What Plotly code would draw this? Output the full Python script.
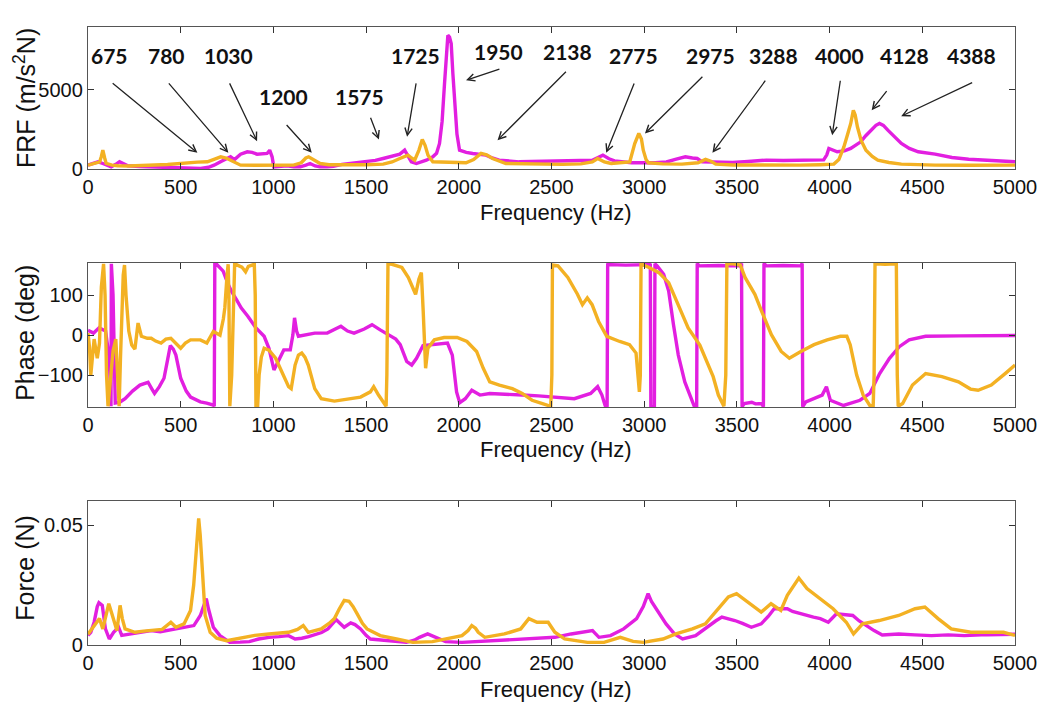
import plotly.graph_objects as go

# ---------------- data ----------------
# Panel 1: FRF magnitude (m/s^2/N)
frf_mag_freq = [0, 30, 54, 80, 100, 125, 150, 170, 190, 215, 280, 340, 400, 465, 540, 608, 650, 680, 720, 769, 790, 823, 859, 885, 912, 940, 966, 980, 993, 1002, 1040, 1073, 1110, 1145, 1175, 1198, 1225, 1252, 1290, 1324, 1370, 1413, 1460, 1503, 1550, 1592, 1640, 1682, 1708, 1725, 1744, 1771, 1800, 1825, 1860, 1880, 1896, 1910, 1923, 1935, 1941, 1950, 1959, 1968, 1977, 1990, 2004, 2040, 2075, 2110, 2147, 2180, 2218, 2326, 2476, 2658, 2720, 2777, 2810, 2840, 2931, 3059, 3120, 3168, 3222, 3260, 3286, 3313, 3400, 3477, 3560, 3659, 3750, 3841, 3968, 3985, 3996, 4041, 4080, 4114, 4140, 4168, 4195, 4223, 4250, 4269, 4290, 4314, 4350, 4387, 4430, 4478, 4569, 4660, 4750, 4842, 4920, 5000]
frf_mag_val = [250, 350, 460, 355, 250, 146, 300, 460, 350, 210, 170, 146, 160, 146, 100, 40, 120, 250, 500, 775, 600, 940, 1090, 1050, 940, 950, 985, 1190, 775, 146, 180, 210, 150, 146, 250, 355, 200, 146, 150, 180, 300, 355, 400, 460, 550, 670, 800, 940, 1190, 800, 460, 355, 450, 565, 775, 1000, 1610, 3000, 5376, 7800, 8410, 8300, 7890, 6000, 4330, 2200, 1190, 1050, 985, 950, 880, 700, 565, 460, 480, 520, 560, 880, 650, 520, 400, 400, 450, 610, 775, 700, 670, 460, 430, 420, 480, 565, 540, 560, 580, 900, 1300, 1090, 1150, 1300, 1500, 1715, 2100, 2450, 2750, 2870, 2750, 2450, 2000, 1610, 1300, 1090, 940, 730, 620, 565, 500, 460]
frf_org_freq = [0, 40, 63, 72, 80, 90, 98, 130, 161, 220, 286, 360, 429, 480, 537, 590, 644, 680, 716, 745, 769, 800, 823, 900, 966, 1040, 1109, 1150, 1175, 1190, 1215, 1252, 1300, 1413, 1500, 1592, 1640, 1682, 1726, 1745, 1762, 1785, 1803, 1818, 1834, 1860, 1950, 2039, 2080, 2120, 2150, 2182, 2254, 2400, 2560, 2658, 2720, 2749, 2785, 2822, 2900, 2922, 2949, 2971, 2985, 2995, 3010, 3022, 3100, 3204, 3290, 3331, 3360, 3386, 3480, 3568, 3700, 3841, 3950, 4023, 4050, 4077, 4100, 4114, 4128, 4138, 4150, 4170, 4196, 4230, 4260, 4320, 4387, 4480, 4569, 4750, 5000]
frf_org_val = [250, 350, 460, 800, 1190, 700, 355, 250, 210, 200, 250, 260, 290, 350, 420, 440, 460, 600, 775, 700, 565, 350, 250, 240, 250, 230, 250, 400, 700, 775, 600, 355, 280, 250, 280, 315, 450, 670, 880, 700, 565, 1200, 1860, 1500, 880, 460, 420, 400, 600, 985, 900, 670, 355, 320, 300, 330, 450, 670, 450, 355, 400, 450, 1610, 2240, 1900, 1190, 600, 400, 330, 315, 400, 610, 500, 315, 260, 250, 230, 250, 280, 315, 600, 1400, 2300, 2870, 3700, 3400, 2660, 1800, 1190, 800, 565, 420, 315, 280, 250, 240, 250]

# Panel 2: phase (deg)
ph_mag_freq = [0, 30, 60, 95, 115, 124, 126, 135, 147, 170, 200, 240, 280, 324, 345, 359, 385, 410, 430, 444, 460, 474, 500, 530, 553, 606, 640, 676, 681, 684, 694, 729, 756, 773, 800, 826, 862, 906, 950, 976, 1003, 1029, 1056, 1091, 1105, 1114, 1125, 1135, 1180, 1223, 1290, 1364, 1400, 1435, 1490, 1532, 1576, 1629, 1660, 1684, 1719, 1746, 1772, 1807, 1868, 1939, 1965, 1988, 2005, 2035, 2070, 2114, 2167, 2254, 2342, 2430, 2518, 2623, 2711, 2749, 2772, 2789, 2800, 2803, 2812, 2900, 3026, 3033, 3036, 3055, 3058, 3070, 3105, 3132, 3158, 3184, 3219, 3254, 3270, 3283, 3286, 3296, 3400, 3518, 3525, 3528, 3540, 3580, 3600, 3633, 3643, 3646, 3659, 3750, 3845, 3852, 3855, 3872, 3934, 3960, 3983, 4004, 4075, 4164, 4217, 4270, 4323, 4376, 4429, 4518, 4700, 5000]
ph_mag_val = [12, 5, 18, 10, -60, -178, 178, 100, -170, -168, -159, -140, -125, -118, -135, -146, -129, -108, -60, -26, -35, -50, -108, -140, -155, -167, -170, -175, -178, 178, 177, 160, 127, 110, 89, 68, 47, 18, -3, -33, -87, -62, -37, -37, 0, 43, 10, -3, 0, 5, 5, 22, 10, 5, 15, 26, 13, -3, -10, -24, -66, -75, -58, -26, -24, -20, -50, -142, -169, -159, -138, -150, -146, -149, -150, -152, -155, -159, -146, -129, -150, -176, -179, 179, 176, 175, 176, 178, -179, -179, 178, 173, 152, 110, 26, -50, -117, -159, -178, -179, 179, 173, 174, 173, 179, -179, -171, -168, -172, -171, -179, 179, 173, 174, 173, 179, -179, -167, -155, -150, -129, -163, -176, -163, -146, -96, -58, -29, -12, -3, -2, -1]
ph_org_freq = [0, 8, 15, 25, 33, 50, 62, 72, 84, 92, 100, 108, 118, 135, 150, 160, 168, 175, 190, 197, 205, 220, 236, 253, 270, 288, 320, 341, 365, 394, 420, 447, 475, 500, 525, 553, 606, 641, 676, 712, 730, 738, 750, 756, 760, 765, 775, 785, 791, 800, 830, 850, 865, 897, 902, 906, 915, 923, 935, 950, 976, 1012, 1047, 1082, 1096, 1117, 1135, 1153, 1170, 1188, 1223, 1258, 1329, 1399, 1470, 1523, 1541, 1567, 1594, 1608, 1612, 1618, 1640, 1693, 1728, 1750, 1767, 1785, 1798, 1808, 1816, 1821, 1833, 1868, 1921, 1991, 2044, 2096, 2132, 2167, 2219, 2289, 2342, 2395, 2447, 2496, 2502, 2505, 2535, 2588, 2640, 2667, 2693, 2719, 2754, 2798, 2868, 2921, 2956, 2974, 2979, 2983, 3026, 3079, 3132, 3184, 3237, 3300, 3340, 3372, 3400, 3430, 3440, 3446, 3480, 3518, 3544, 3597, 3633, 3686, 3739, 3783, 3845, 3916, 3987, 4058, 4093, 4111, 4146, 4181, 4217, 4235, 4240, 4245, 4300, 4360, 4365, 4370, 4394, 4447, 4518, 4606, 4695, 4760, 4801, 4872, 4950, 5000]
ph_org_val = [5, -30, -100, -40, -10, -58, -20, 120, 178, 100, -100, -178, -120, -40, -10, -100, -178, -60, 150, 175, 100, 10, -25, -35, 30, -3, -8, -8, -15, -20, -10, -8, -20, -33, -20, -12, -12, -20, 9, 0, 40, 68, 150, 177, 100, -178, -100, 100, 178, 176, 170, 158, 172, 177, 100, -178, -178, -100, -55, -33, -38, -58, -92, -129, -134, -75, -50, -45, -55, -75, -134, -159, -165, -159, -155, -142, -129, -150, -171, -178, -100, 178, 177, 169, 144, 120, 102, 140, 156, 60, -16, -83, -33, -12, -6, -6, -16, -41, -83, -117, -125, -134, -146, -163, -171, -178, -100, 175, 173, 144, 102, 76, 93, 76, 34, -3, -16, -24, -45, -142, -100, 178, 169, 156, 131, 76, 18, -25, -70, -104, -150, -178, -100, 178, 178, 175, 144, 102, 60, 1, -41, -58, -41, -24, -12, -3, -3, -24, -100, -150, -176, -178, -100, 178, 177, 178, -100, -178, -171, -125, -96, -104, -117, -135, -138, -125, -95, -75]

# Panel 3: force (N)
fo_mag_freq = [0, 15, 33, 50, 59, 77, 94, 115, 138, 165, 182, 220, 253, 300, 341, 390, 429, 482, 518, 571, 606, 625, 638, 650, 676, 712, 765, 820, 870, 920, 976, 1030, 1082, 1117, 1153, 1190, 1223, 1260, 1294, 1320, 1338, 1360, 1382, 1417, 1440, 1470, 1500, 1523, 1611, 1717, 1760, 1788, 1832, 1876, 1929, 2017, 2105, 2200, 2281, 2370, 2458, 2518, 2606, 2680, 2721, 2756, 2818, 2889, 2959, 2995, 3021, 3040, 3065, 3118, 3163, 3207, 3277, 3348, 3385, 3419, 3455, 3489, 3530, 3578, 3631, 3670, 3701, 3740, 3772, 3800, 3843, 3880, 3913, 3950, 3993, 4037, 4080, 4125, 4160, 4196, 4240, 4284, 4373, 4460, 4549, 4640, 4726, 4850, 4938, 5000]
fo_mag_val = [0.004, 0.0053, 0.0095, 0.016, 0.0176, 0.0165, 0.0067, 0.0025, 0.0053, 0.0074, 0.004, 0.0045, 0.0046, 0.0055, 0.006, 0.0055, 0.006, 0.0067, 0.0074, 0.0081, 0.0123, 0.017, 0.0193, 0.015, 0.0074, 0.0039, 0.0011, 0.0012, 0.0014, 0.0025, 0.0032, 0.0035, 0.0039, 0.0025, 0.0028, 0.0035, 0.0042, 0.0052, 0.0067, 0.009, 0.0106, 0.009, 0.0074, 0.0092, 0.0085, 0.0067, 0.004, 0.0025, 0.0018, 0.0011, 0.002, 0.0032, 0.0046, 0.0032, 0.0014, 0.0011, 0.0015, 0.0018, 0.0021, 0.0025, 0.0028, 0.0032, 0.0046, 0.0055, 0.006, 0.0032, 0.0039, 0.0067, 0.011, 0.016, 0.0214, 0.018, 0.0151, 0.0088, 0.0046, 0.0025, 0.0039, 0.0081, 0.01, 0.0116, 0.011, 0.0102, 0.009, 0.0074, 0.0088, 0.012, 0.0151, 0.015, 0.0151, 0.014, 0.013, 0.012, 0.0116, 0.011, 0.0095, 0.013, 0.0125, 0.0123, 0.01, 0.0081, 0.006, 0.0042, 0.0046, 0.0042, 0.0039, 0.0042, 0.0039, 0.0043, 0.0046, 0.0045]
fo_org_freq = [0, 15, 35, 62, 80, 95, 112, 125, 138, 156, 173, 185, 200, 253, 300, 341, 400, 447, 474, 518, 553, 570, 579, 590, 597, 605, 615, 625, 632, 659, 694, 747, 790, 835, 900, 976, 1030, 1082, 1130, 1161, 1188, 1220, 1258, 1300, 1329, 1355, 1382, 1408, 1430, 1452, 1480, 1505, 1576, 1664, 1752, 1858, 1929, 2017, 2050, 2070, 2090, 2105, 2140, 2246, 2334, 2378, 2422, 2482, 2518, 2571, 2694, 2783, 2871, 2940, 2995, 3101, 3171, 3260, 3330, 3401, 3454, 3498, 3560, 3631, 3684, 3737, 3772, 3834, 3878, 3949, 4019, 4090, 4129, 4178, 4267, 4373, 4461, 4514, 4585, 4656, 4762, 4868, 4938, 5000]
fo_org_val = [0.0045, 0.006, 0.008, 0.011, 0.0067, 0.012, 0.0172, 0.014, 0.011, 0.006, 0.0165, 0.011, 0.0067, 0.0053, 0.0058, 0.006, 0.0065, 0.0095, 0.0074, 0.0088, 0.0144, 0.025, 0.0346, 0.048, 0.0528, 0.046, 0.0346, 0.02, 0.0123, 0.0053, 0.0028, 0.0018, 0.0025, 0.0032, 0.004, 0.0046, 0.005, 0.0053, 0.0065, 0.0081, 0.0053, 0.006, 0.0067, 0.009, 0.011, 0.015, 0.0186, 0.0182, 0.016, 0.013, 0.009, 0.0067, 0.0039, 0.0025, 0.0011, 0.0014, 0.0025, 0.0039, 0.006, 0.0081, 0.007, 0.0053, 0.0032, 0.0046, 0.0067, 0.011, 0.0095, 0.0095, 0.0053, 0.0025, 0.0011, 0.0011, 0.0032, 0.0015, 0.0011, 0.0025, 0.0046, 0.0067, 0.0088, 0.0151, 0.02, 0.0214, 0.0179, 0.0137, 0.0172, 0.0144, 0.0207, 0.0279, 0.0235, 0.0193, 0.0151, 0.0095, 0.0046, 0.0088, 0.0102, 0.0123, 0.0151, 0.0158, 0.011, 0.0067, 0.0053, 0.0053, 0.0053, 0.004]

# Annotated modes (Hz): label, text anchor, arrow tail, arrow head (data coords of panel 1)
mode_labels = ["675", "780", "1030", "1200", "1575", "1725", "1950", "2138", "2775", "2975", "3288", "4000", "4128", "4388"]
label_x = [116, 424, 757, 1057, 1462, 1767, 2216, 2586, 2944, 3359, 3699, 4054, 4405, 4765]
label_y = [7155, 7155, 7155, 4540, 4540, 7155, 7364, 7364, 7155, 7155, 7155, 7155, 7155, 7155]
tail_x = [125, 429, 760, 1064, 1521, 1771, 2227, 2586, 2949, 3322, 3659, 4059, 4314, 4777]
tail_y = [5481, 5481, 5481, 2866, 3326, 5481, 6318, 6213, 5481, 5899, 5648, 5648, 5000, 5481]
head_x = [590, 757, 912, 1207, 1569, 1721, 2039, 2209, 2795, 3004, 3368, 4014, 4227, 4386]
head_y = [1025, 1025, 1757, 1025, 1862, 2029, 5586, 1820, 1025, 2238, 1025, 2134, 3703, 3326]

x_ticks = [0, 500, 1000, 1500, 2000, 2500, 3000, 3500, 4000, 4500, 5000]

# ---------------- styling ----------------
MAG = "#e21fe0"
ORG = "#f3b123"
LW = 3.4
TICKFONT = dict(family="Liberation Sans, Arial", size=20, color="#111")
TITLEFONT = dict(family="Liberation Sans, Arial", size=25, color="#111")
XTITLEFONT = dict(family="Liberation Sans, Arial", size=22, color="#111")

fig = go.Figure()
series = [
    (frf_mag_freq, frf_mag_val, MAG, "x", "y"),
    (frf_org_freq, frf_org_val, ORG, "x", "y"),
    (ph_mag_freq, ph_mag_val, MAG, "x2", "y2"),
    (ph_org_freq, ph_org_val, ORG, "x2", "y2"),
    (fo_mag_freq, fo_mag_val, MAG, "x3", "y3"),
    (fo_org_freq, fo_org_val, ORG, "x3", "y3"),
]
for fx, fy, col, xa, ya in series:
    fig.add_trace(go.Scatter(x=fx, y=fy, mode="lines", line=dict(color=col, width=LW),
                             xaxis=xa, yaxis=ya, showlegend=False, hoverinfo="skip"))

common_ax = dict(showline=True, linecolor="#555", linewidth=1.3, mirror="ticks", ticks="inside",
                 ticklen=6, tickcolor="#333", tickwidth=1.2, showgrid=False, zeroline=False,
                 tickfont=TICKFONT)

domains = {"": [0.770, 1.0], "2": [0.385, 0.618], "3": [0.0, 0.233]}
layout = dict(width=1058, height=713, margin=dict(l=88, r=43, t=27, b=68),
              paper_bgcolor="white", plot_bgcolor="white")
for k, dom in domains.items():
    layout["xaxis" + k] = dict(common_ax, domain=[0, 1], range=[0, 5000], tickvals=x_ticks,
                               anchor="y" + k)
    layout["yaxis" + k] = dict(common_ax, domain=dom, anchor="x" + k)
layout["yaxis"].update(range=[0, 8930], tickvals=[0, 5000])
layout["yaxis2"].update(range=[-180, 180], tickvals=[-100, 0, 100])
layout["yaxis3"].update(range=[0, 0.06], tickvals=[0, 0.05], ticktext=["0", "0.05"])
fig.update_layout(**layout)

ann = []
# axis titles
for ytxt, ypos in [("FRF (m/s<sup>2</sup>N)", 0.885), ("Phase (deg)", 0.505), ("Force (N)", 0.125)]:
    ann.append(dict(text=ytxt, xref="paper", yref="paper", x=-0.068, y=ypos, showarrow=False,
                    textangle=-90, font=TITLEFONT, xanchor="center", yanchor="middle"))
for ypos in [0.7006, 0.317, -0.0728]:
    ann.append(dict(text="Frequency (Hz)", xref="paper", yref="paper", x=0.505, y=ypos,
                    showarrow=False, font=XTITLEFONT, xanchor="center", yanchor="middle"))
# mode labels and arrows
for lab, lx, ly, tx, ty, hx, hy in zip(mode_labels, label_x, label_y, tail_x, tail_y, head_x, head_y):
    ann.append(dict(text="<b>" + lab + "</b>", x=lx, y=ly, xref="x", yref="y", showarrow=False,
                    font=dict(family="Lato, Open Sans, sans-serif", size=21, color="#111")))
    ann.append(dict(text="", x=hx, y=hy, ax=tx, ay=ty, xref="x", yref="y", axref="x", ayref="y",
                    showarrow=True, arrowhead=5, arrowsize=1.1, arrowwidth=1.3, arrowcolor="#222"))
fig.update_layout(annotations=ann)

fig.write_html("out.html")
